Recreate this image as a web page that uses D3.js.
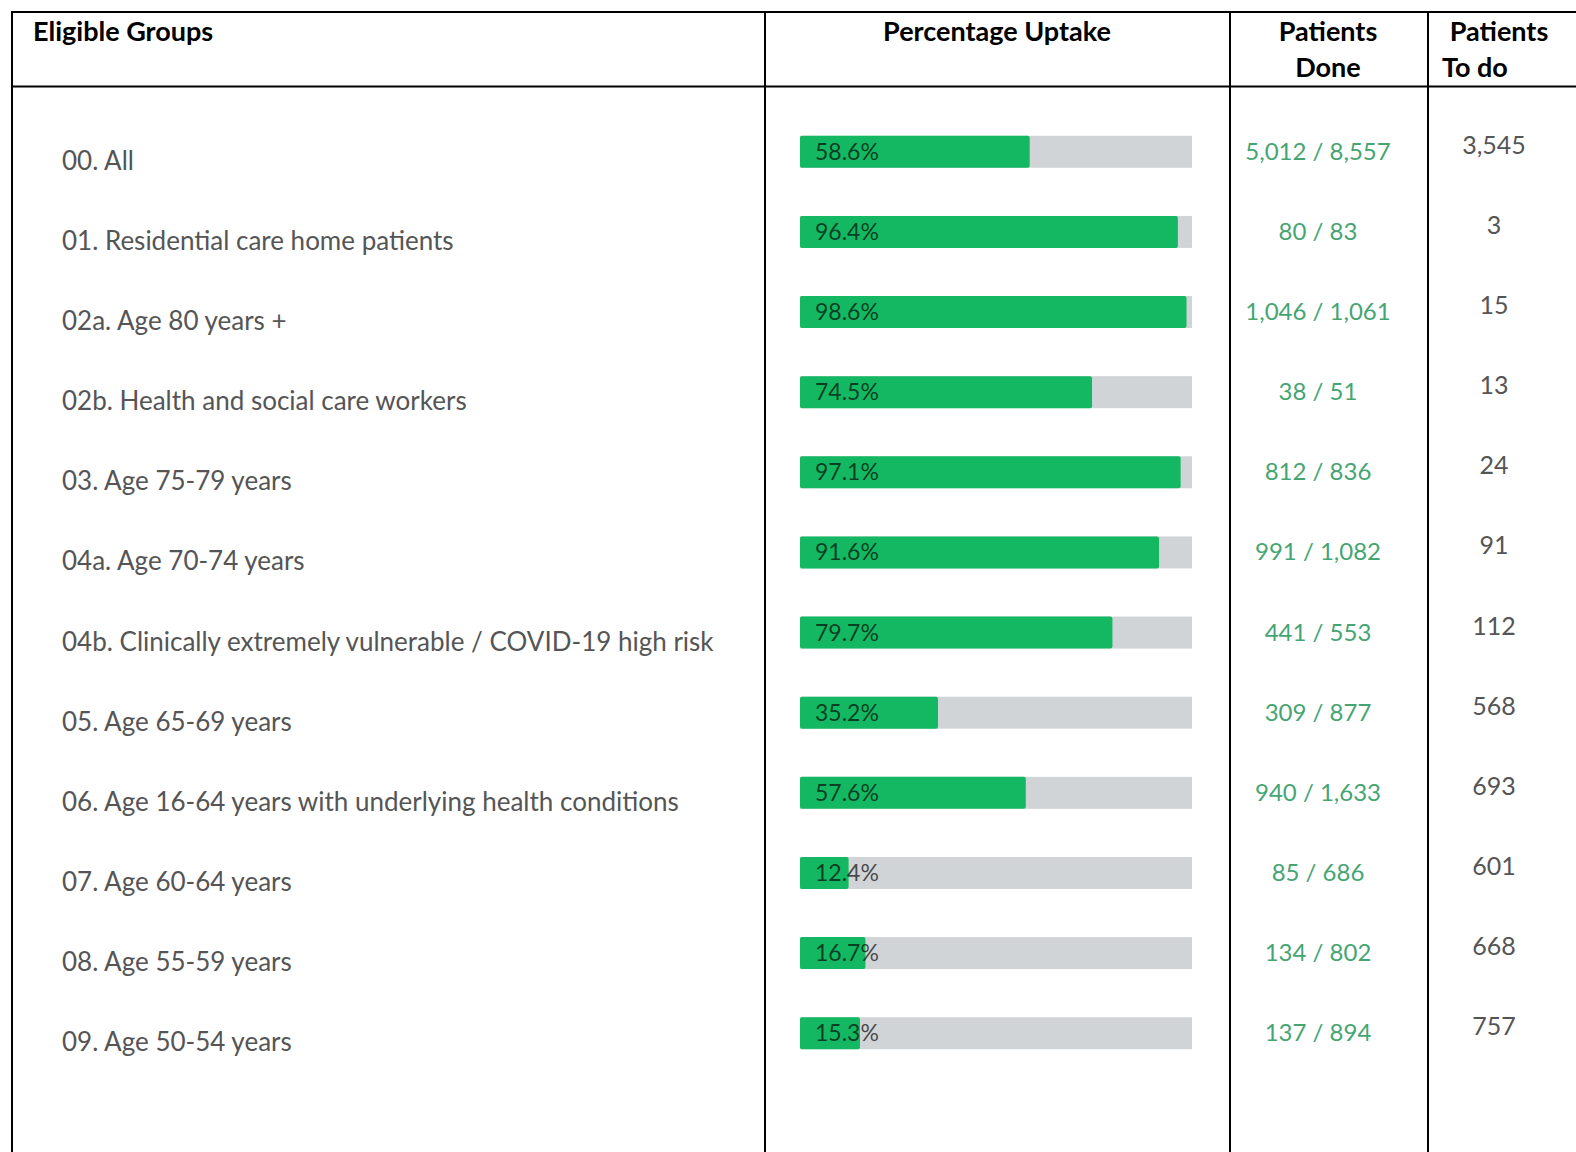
<!DOCTYPE html>
<html>
<head>
<meta charset="utf-8">
<script src="https://cdn.jsdelivr.net/npm/d3@7"></script>
<style>
  html, body { margin: 0; padding: 0; background: #fff; }
  svg { display: block; }
</style>
</head>
<body>
<div id="chart"></div>
<script>
const groups = [
  "00. All",
  "01. Residential care home patients",
  "02a. Age 80 years +",
  "02b. Health and social care workers",
  "03. Age 75-79 years",
  "04a. Age 70-74 years",
  "04b. Clinically extremely vulnerable / COVID-19 high risk",
  "05. Age 65-69 years",
  "06. Age 16-64 years with underlying health conditions",
  "07. Age 60-64 years",
  "08. Age 55-59 years",
  "09. Age 50-54 years"
];
const uptake = [58.6, 96.4, 98.6, 74.5, 97.1, 91.6, 79.7, 35.2, 57.6, 12.4, 16.7, 15.3];
const done = [5012, 80, 1046, 38, 812, 991, 441, 309, 940, 85, 134, 137];
const eligible = [8557, 83, 1061, 51, 836, 1082, 553, 877, 1633, 686, 802, 894];
const toDo = [3545, 3, 15, 13, 24, 91, 112, 568, 693, 601, 668, 757];

const width = 1576, height = 1152;
const rows = groups.map((g, i) => ({
  group: g, uptake: uptake[i], done: done[i], eligible: eligible[i], toDo: toDo[i]
}));

const svg = d3.select("#chart").append("svg")
  .attr("width", width).attr("height", height);

const fmt = d3.format(",");
const y = d3.scaleBand().domain(groups).range([111.7, 1073.3]);
const x = d3.scaleLinear().domain([0, 100]).range([800, 1192]);
const mid = d => y(d.group) + y.bandwidth() / 2;

// grid lines
const cols = [12, 765, 1230, 1428];
svg.append("g").selectAll("line").data(cols).join("line")
  .attr("x1", d => d).attr("x2", d => d)
  .attr("y1", 12).attr("y2", height)
  .attr("stroke", "#000").attr("stroke-width", 2);
svg.append("g").selectAll("line").data([12, 86.5]).join("line")
  .attr("x1", 11).attr("x2", width)
  .attr("y1", d => d).attr("y2", d => d)
  .attr("stroke", "#000").attr("stroke-width", 2);

// header
const head = svg.append("g")
  .attr("font-family", "Lato, 'Open Sans', sans-serif")
  .attr("font-weight", "bold").attr("font-size", 27).attr("fill", "#000");
head.append("text").attr("x", 33).attr("y", 41).text("Eligible Groups");
head.append("text").attr("x", 997).attr("y", 41).attr("text-anchor", "middle").text("Percentage Uptake");
head.append("text").attr("x", 1328).attr("y", 41).attr("text-anchor", "middle").text("Patients");
head.append("text").attr("x", 1328).attr("y", 77).attr("text-anchor", "middle").text("Done");
head.append("text").attr("x", 1499).attr("y", 41).attr("text-anchor", "middle").text("Patients");
head.append("text").attr("x", 1442).attr("y", 77).text("To do");

const body = svg.append("g").attr("font-family", "Lato, 'Open Sans', sans-serif");

// group labels
body.append("g").selectAll("text").data(rows).join("text")
  .attr("x", 62).attr("y", d => mid(d) + 18)
  .attr("font-size", 26).attr("fill", "#555")
  .text(d => d.group);

// bars
const bars = body.append("g").selectAll("g").data(rows).join("g");
bars.append("rect")
  .attr("x", x(0)).attr("y", d => mid(d) - 16)
  .attr("width", x(100) - x(0)).attr("height", 32)
  .attr("fill", "#d1d4d7");
bars.append("rect")
  .attr("x", x(0)).attr("y", d => mid(d) - 16)
  .attr("width", d => x(d.uptake) - x(0)).attr("height", 32)
  .attr("rx", 2)
  .attr("fill", "#14b862");
bars.append("text")
  .attr("x", x(0) + 15).attr("y", d => mid(d) + 8)
  .attr("font-size", 23).attr("fill", "#000").attr("fill-opacity", 0.68)
  .text(d => d.uptake.toFixed(1) + "%");

// patients done
body.append("g").selectAll("text").data(rows).join("text")
  .attr("x", 1318).attr("y", d => mid(d) + 8)
  .attr("text-anchor", "middle")
  .attr("font-size", 24).attr("fill", "#45a572")
  .text(d => `${fmt(d.done)} / ${fmt(d.eligible)}`);

// patients to do
body.append("g").selectAll("text").data(rows).join("text")
  .attr("x", 1494).attr("y", d => mid(d) + 2)
  .attr("text-anchor", "middle")
  .attr("font-size", 25).attr("fill", "#555")
  .text(d => fmt(d.toDo));
</script>
</body>
</html>
